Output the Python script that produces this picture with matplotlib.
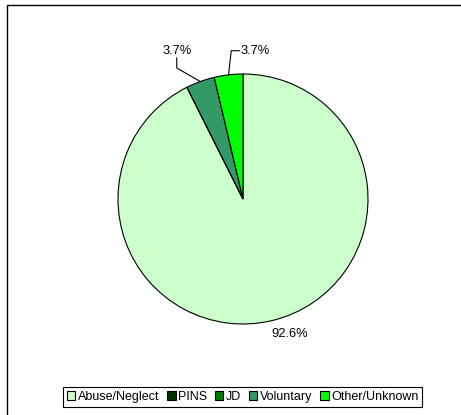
import matplotlib.pyplot as plt
import numpy as np
from matplotlib.patches import Rectangle

plt.rcParams['font.family'] = ['Liberation Sans', 'DejaVu Sans']

categories = ['Abuse/Neglect', 'PINS', 'JD', 'Voluntary', 'Other/Unknown']
values = [92.6, 0.0, 0.0, 3.7, 3.7]
colors = ['#CCFFCC', '#003300', '#008000', '#339966', '#00FF00']

fig = plt.figure(figsize=(4.61, 4.15), dpi=100)
ax = fig.add_axes([0, 0, 1, 1])

# outer chart border (right/bottom run off the image)
fig.patches.append(Rectangle((7 / 461, -0.1), 1.1, 1 - 5 / 415 + 0.1,
                             transform=fig.transFigure, fill=False,
                             edgecolor='black', linewidth=1.0))

wedges, _ = ax.pie(values, colors=colors, startangle=90, counterclock=False,
                   radius=1.0, center=(0, 0),
                   wedgeprops=dict(edgecolor='black', linewidth=0.8))
ax.set_aspect('auto')
ax.set_xlim(-1.944, 1.744)
ax.set_ylim(-1.728, 1.592)
ax.axis('off')

def edge_point(w):
    mid = np.deg2rad((w.theta1 + w.theta2) / 2)
    return np.cos(mid), np.sin(mid)

fs = 9.3
# Voluntary label (left)
vx, vy = edge_point(wedges[3])
ax.plot([vx, -0.53, -0.53], [vy, 1.048, 1.128], color='black', lw=0.8)
ax.text(-0.528, 1.184, f'{values[3]:.1f}%', ha='center', va='center', fontsize=fs)

# Other/Unknown label (right)
ox, oy = edge_point(wedges[4])
ax.plot([ox, -0.094, -0.03], [oy, 1.186, 1.186], color='black', lw=0.8)
ax.text(-0.02, 1.184, f'{values[4]:.1f}%', ha='left', va='center', fontsize=fs)

# Abuse/Neglect label
ax.text(0.376, -1.08, f'{values[0]:.1f}%', ha='center', va='center', fontsize=fs)

leg = ax.legend(wedges, categories, loc='center', ncol=5,
                bbox_to_anchor=(0.526, 0.0434), bbox_transform=fig.transFigure,
                fontsize=9, handlelength=0.7, handleheight=0.7,
                handletextpad=0.2, columnspacing=0.6, borderpad=0.3,
                fancybox=False, framealpha=1, edgecolor='black')
leg.get_frame().set_linewidth(0.8)

fig.savefig('out.png', dpi=100)
